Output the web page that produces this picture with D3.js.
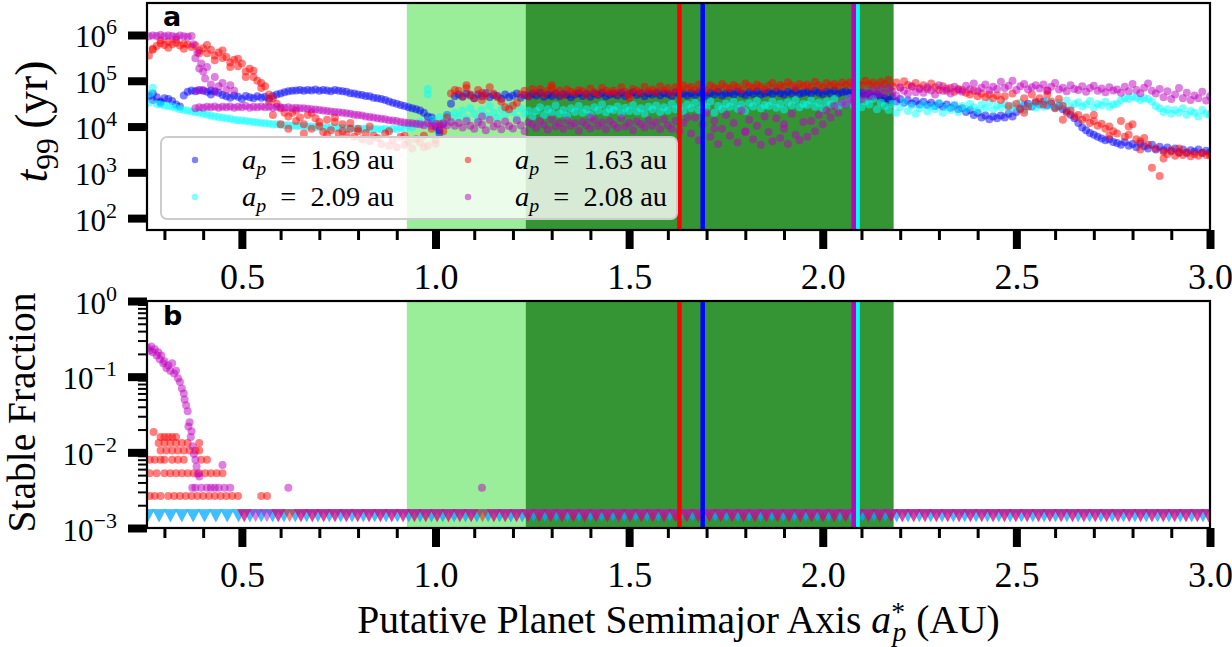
<!DOCTYPE html>
<html>
<head>
<meta charset="utf-8">
<script src="https://cdn.jsdelivr.net/npm/d3@7/dist/d3.min.js"></script>
<style>
html,body{margin:0;padding:0;background:#fff;}
svg{display:block;}
svg text{font-family:"Liberation Serif";}
svg text.sanslabel{font-family:"DejaVu Sans";font-weight:bold;}
</style>
</head>
<body>
<svg id="chart" width="1232" height="647"></svg>
<script>
// ================= DATA =================
const xDomain = [0.255, 3.0];            // putative planet semimajor axis (AU)
const t99Domain = [55, 5.0e6];           // t99 (yr), log axis
const fracDomain = [1e-3, 1];            // stable fraction, log axis
const gridStart = 0.26, gridStep = 0.01; // simulation grid in a_p* (AU)

const xMajorTicks = [0.5, 1.0, 1.5, 2.0, 2.5, 3.0];
const xMinorTicks = [0.3,0.4,0.6,0.7,0.8,0.9,1.1,1.2,1.3,1.4,1.6,1.7,1.8,1.9,2.1,2.2,2.3,2.4,2.6,2.7,2.8,2.9];
const t99TickExps = [2, 3, 4, 5, 6];
const fracTickExps = [-3, -2, -1, 0];

const lightSpan = [0.926, 1.233];   // light green band
const darkSpan  = [1.233, 2.183];   // dark green band

const seriesNames  = ['1.69', '2.09', '1.63', '2.08'];   // a_p (au)
const seriesColors = ['#0000ff', '#00ffff', '#ff0000', '#bf00bf'];
const planetA      = [1.69, 2.09, 1.63, 2.08];

// log10(t99 / yr) on the grid 0.26, 0.27, ... 3.00
const t99LogBlue = [
4.66,4.58,4.64,4.55,4.62,4.60,4.56,4.48,4.44,4.68,
4.76,4.79,4.77,4.80,4.78,4.76,4.79,4.77,4.74,4.69,
4.66,4.63,4.68,4.65,4.60,4.67,4.64,4.62,4.66,4.63,
4.65,4.61,4.67,4.70,4.72,4.75,4.77,4.78,4.79,4.80,
4.78,4.80,4.79,4.81,4.78,4.80,4.79,4.77,4.80,4.78,
4.77,4.76,4.73,4.72,4.70,4.69,4.67,4.66,4.63,4.62,
4.60,4.58,4.55,4.52,4.50,4.47,4.45,4.42,4.40,4.38,
4.35,4.30,4.22,4.12,4.00,3.92,4.05,4.25,4.50,4.66,
4.70,4.65,4.72,4.68,4.62,4.70,4.66,4.73,4.64,4.69,
4.67,4.61,4.70,4.64,4.68,4.72,4.63,4.69,4.66,4.71,
4.68,4.74,4.65,4.70,4.67,4.72,4.66,4.71,4.69,4.64,
4.70,4.73,4.67,4.71,4.65,4.72,4.69,4.74,4.66,4.70,
4.72,4.68,4.74,4.67,4.71,4.75,4.69,4.73,4.66,4.72,
4.70,4.74,4.68,4.73,4.71,4.67,4.75,4.70,4.72,4.68,
4.73,4.69,4.75,4.71,4.67,4.74,4.70,4.76,4.68,4.72,
4.74,4.70,4.76,4.72,4.69,4.75,4.71,4.77,4.70,4.73,
4.75,4.71,4.77,4.73,4.70,4.76,4.72,4.78,4.71,4.74,
4.76,4.72,4.78,4.74,4.71,4.77,4.73,4.79,4.72,4.75,
4.77,4.73,4.75,4.70,4.74,4.68,4.72,4.66,4.70,4.64,
4.62,4.58,4.64,4.55,4.60,4.52,4.57,4.50,4.56,4.48,
4.54,4.47,4.52,4.45,4.50,4.43,4.48,4.41,4.46,4.38,
4.40,4.32,4.36,4.25,4.30,4.20,4.24,4.16,4.22,4.18,
4.24,4.20,4.28,4.22,4.32,4.40,4.46,4.50,4.44,4.52,
4.48,4.55,4.46,4.50,4.42,4.45,4.38,4.34,4.26,4.18,
4.08,3.98,3.92,3.86,3.82,3.78,3.74,3.70,3.72,3.66,
3.64,3.60,3.66,3.58,3.62,3.55,3.63,3.57,3.52,3.60,
3.50,3.56,3.48,3.54,3.46,3.52,3.44,3.50,3.42,3.48,
3.45,3.50,3.43,3.47,3.44];

const t99LogCyan = [
4.52,4.85,4.49,4.48,4.46,4.45,4.43,4.41,4.38,4.36,
4.35,4.33,4.31,4.30,4.28,4.26,4.24,4.22,4.21,4.19,
4.18,4.17,4.15,4.14,4.13,4.12,4.11,4.10,4.09,4.08,
4.07,4.06,4.05,4.05,4.04,4.03,4.03,4.02,4.02,4.01,
4.01,4.00,4.00,3.99,3.99,3.98,3.98,3.98,3.97,3.97,
3.97,3.96,3.96,3.96,3.95,3.95,3.95,3.94,3.95,3.94,
3.94,3.95,3.93,3.96,3.94,3.97,3.95,4.02,3.98,4.05,
4.10,4.05,4.82,4.15,4.08,4.20,4.12,4.25,4.18,4.30,
4.22,4.35,4.18,4.40,4.28,4.15,4.36,4.24,4.45,4.30,
4.20,4.38,4.26,4.44,4.32,4.18,4.40,4.28,4.35,4.22,
4.34,4.42,4.25,4.38,4.30,4.46,4.28,4.36,4.24,4.40,
4.32,4.45,4.30,4.38,4.26,4.42,4.35,4.48,4.31,4.39,
4.36,4.44,4.29,4.41,4.34,4.47,4.33,4.40,4.28,4.43,
4.37,4.46,4.32,4.42,4.35,4.50,4.38,4.44,4.34,4.48,
4.40,4.52,4.36,4.47,4.42,4.55,4.30,4.45,4.38,4.50,
4.43,4.54,4.39,4.48,4.34,4.51,4.44,4.56,4.40,4.47,
4.45,4.55,4.41,4.50,4.37,4.53,4.46,4.58,4.42,4.49,
4.47,4.57,4.43,4.52,4.40,4.55,4.48,4.60,4.44,4.51,
4.50,4.62,4.46,4.58,4.42,4.55,4.48,4.60,4.38,4.52,
4.45,4.36,4.50,4.30,4.42,4.55,4.34,4.46,4.28,4.40,
4.48,4.33,4.44,4.38,4.52,4.30,4.42,4.36,4.47,4.32,
4.45,4.38,4.50,4.42,4.35,4.48,4.40,4.53,4.37,4.46,
4.42,4.50,4.38,4.46,4.40,4.52,4.36,4.44,4.48,4.41,
4.50,4.43,4.55,4.46,4.40,4.52,4.45,4.57,4.42,4.49,
4.53,4.44,4.48,4.56,4.41,4.50,4.46,4.54,4.43,4.48,
4.50,4.58,4.62,4.60,4.65,4.63,4.58,4.62,4.60,4.55,
4.45,4.40,4.32,4.38,4.28,4.36,4.30,4.40,4.26,4.34,
4.30,4.22,4.36,4.28,4.25];

const t99LogRed = [
5.55,5.68,5.76,5.82,5.78,5.85,5.80,5.83,5.77,5.81,
5.79,5.74,5.77,5.66,5.71,5.60,5.68,5.55,5.62,5.50,
5.52,5.40,5.46,5.32,5.38,5.20,5.26,5.08,5.00,4.84,
4.88,4.70,4.62,4.50,4.40,4.30,4.22,4.30,4.12,4.20,
4.05,4.25,3.95,4.18,4.02,3.88,4.15,3.92,4.10,3.85,
4.05,3.82,3.95,3.78,3.90,3.72,3.86,3.68,3.80,3.75,
3.62,3.85,3.58,3.70,3.55,3.78,3.60,3.66,3.52,3.72,
3.65,3.80,3.58,3.95,3.70,4.05,3.90,4.20,4.72,4.80,
4.78,4.66,4.84,4.70,4.62,4.80,4.74,4.68,4.86,4.72,
4.64,4.55,4.42,4.38,4.46,4.52,4.70,4.78,4.66,4.82,
4.74,4.82,4.70,4.78,4.85,4.72,4.79,4.68,4.81,4.76,
4.73,4.80,4.77,4.69,4.83,4.75,4.71,4.84,4.78,4.74,
4.79,4.72,4.86,4.76,4.70,4.82,4.78,4.74,4.87,4.77,
4.81,4.75,4.88,4.79,4.84,4.73,4.86,4.80,4.90,4.83,
4.87,4.80,4.92,4.84,4.78,4.90,4.85,4.82,4.93,4.86,
4.83,4.91,4.86,4.80,4.94,4.88,4.84,4.92,4.87,4.81,
4.89,4.95,4.85,4.91,4.87,4.97,4.90,4.84,4.93,4.88,
4.92,4.86,4.98,4.90,4.85,4.95,4.89,4.93,4.87,4.96,
4.91,4.97,4.88,4.94,4.90,5.00,4.92,4.96,4.89,4.98,
4.93,5.02,4.88,4.96,4.85,4.99,4.91,4.87,4.95,4.84,
4.90,4.82,4.94,4.86,4.80,4.88,4.78,4.84,4.76,4.82,
4.80,4.74,4.70,4.78,4.66,4.72,4.64,4.70,4.62,4.68,
4.58,4.66,4.45,4.72,4.50,4.38,4.62,4.44,4.70,4.55,
4.62,4.48,4.70,4.55,4.40,4.60,4.45,4.30,4.35,4.22,
4.25,4.15,4.20,4.08,4.12,4.02,4.06,3.95,4.00,3.90,
3.85,4.12,3.78,3.82,4.05,3.72,3.68,3.75,3.60,3.10,
3.52,2.92,3.45,3.40,3.48,3.36,3.42,3.38,3.44,3.35,
3.40,3.36,3.42,3.38,3.37];

const t99LogMagenta = [
5.97,5.99,5.98,6.00,5.97,5.99,5.98,5.96,5.99,5.97,
5.96,5.98,4.40,4.42,4.41,4.43,4.42,4.44,4.41,4.43,
4.42,4.44,4.41,4.43,4.42,4.45,4.41,4.43,4.42,4.44,
4.42,4.43,4.41,4.43,4.42,4.41,4.42,4.40,4.41,4.40,
4.40,4.39,4.38,4.37,4.36,4.35,4.34,4.33,4.32,4.31,
4.30,4.29,4.28,4.26,4.25,4.24,4.22,4.21,4.20,4.18,
4.17,4.16,4.14,4.13,4.12,4.10,4.09,4.08,4.07,4.06,
4.05,4.03,4.08,4.02,4.06,4.00,4.07,4.03,4.10,4.02,
4.08,3.98,4.12,4.02,3.95,4.10,4.04,3.92,4.15,4.00,
4.06,3.94,4.11,4.01,3.96,4.14,4.03,3.90,4.09,4.05,
3.97,4.12,4.04,3.93,4.16,4.00,4.08,3.95,4.13,4.02,
4.07,3.91,4.10,4.03,3.96,4.15,4.01,4.09,3.94,4.12,
4.04,3.97,4.18,4.00,4.08,3.92,4.11,4.05,3.98,4.14,
4.02,4.10,3.94,4.16,4.03,3.95,4.12,3.90,4.08,4.20,
3.85,4.20,3.70,4.05,4.30,3.78,4.12,3.62,3.95,4.25,
3.80,4.08,3.65,4.35,3.90,4.15,3.72,4.02,3.60,4.22,
3.88,3.68,4.18,3.75,4.05,3.62,4.28,3.82,3.70,4.10,
3.78,4.12,3.90,4.25,4.05,4.35,4.20,4.45,4.30,4.52,
4.48,4.62,4.55,4.70,4.60,4.75,4.66,4.80,4.70,4.82,
4.72,4.84,4.76,4.68,4.86,4.78,4.72,4.88,4.75,4.82,
4.74,4.86,4.79,4.70,4.90,4.78,4.83,4.72,4.87,4.80,
4.76,4.89,4.81,4.94,4.77,4.85,4.92,4.79,4.87,4.82,
4.98,4.84,4.89,5.00,4.80,4.88,4.93,4.81,4.86,4.90,
4.83,4.92,4.79,4.87,4.95,4.81,4.85,4.77,4.90,4.82,
4.80,4.88,4.76,4.84,4.89,4.78,4.83,4.75,4.86,4.79,
4.81,4.74,4.87,4.77,4.93,4.80,4.73,4.85,4.94,4.78,
4.72,4.82,4.64,4.77,4.60,4.70,4.84,4.62,4.74,4.58,
4.68,4.62,4.76,4.57,4.66];

// additional runs off the grid: [a (AU), log10 t99]
const t99ExtraBlue = [[0.27,4.72],[0.29,4.52],[0.42,4.70],[0.99,4.20],[1.01,3.86]];
const t99ExtraCyan = [[0.265,4.72],[0.98,4.70]];
const t99ExtraRed = [[0.27,5.70],[0.29,5.88],[0.31,5.72],[0.33,5.90],[0.35,5.70],[0.39,5.60],[0.41,5.78],
  [0.43,5.45],[0.45,5.66],[0.47,5.30],[0.49,5.48],[0.51,5.08],[0.53,5.22],[0.55,4.95],[0.57,4.55],
  [0.58,4.25],[0.60,4.05],[0.62,3.95],[0.64,4.35],[0.66,3.85],[0.68,4.30],[0.70,4.10],[0.72,3.82],
  [0.74,4.20],[0.76,3.90],[0.78,4.08],[0.80,3.95],[0.83,4.00],[0.88,3.90],[0.92,3.80],[0.97,3.55],
  [1.00,3.62],[1.08,4.90],[1.12,4.58],[1.30,4.90],[1.50,4.62],[2.52,4.30],[2.58,4.78],[2.62,4.15],
  [2.70,4.25],[2.74,3.80],[2.79,4.00],[2.82,3.50],[2.88,3.30],[2.92,3.52]];
const t99ExtraMagenta = [[0.375,5.80],[0.38,5.49],[0.385,5.62],[0.39,5.27],[0.395,5.38],[0.40,5.20],
  [0.405,5.05],[0.41,5.30],[0.42,4.92],[0.43,5.08],[0.44,4.88],[0.45,4.95],[0.46,4.80],[0.47,4.90],
  [0.385,4.78],[0.40,4.80],[0.43,4.76],[0.48,4.78],[1.72,3.95],[1.80,3.88],[1.90,3.95],[1.12,4.22],[1.40,4.20]];

// stable fraction, non-zero runs: [a (AU), fraction]
const fracBlue = [];
const fracCyan = [];
const fracRed = [
  [0.272,0.0186],
  [0.29,0.0159],[0.30,0.0159],[0.31,0.0159],[0.32,0.0159],[0.33,0.0159],
  [0.285,0.0133],[0.30,0.0133],[0.315,0.0133],[0.33,0.0133],[0.345,0.0133],[0.36,0.0133],[0.39,0.0133],
  [0.29,0.0106],[0.305,0.0106],[0.32,0.0106],[0.335,0.0106],[0.35,0.0106],[0.365,0.0106],[0.38,0.0106],[0.39,0.0106],
  [0.262,0.0080],[0.275,0.0080],[0.29,0.0080],[0.30,0.0080],[0.32,0.0080],[0.335,0.0080],[0.35,0.0080],[0.395,0.0080],[0.41,0.0080],
  [0.262,0.0053],[0.28,0.0053],[0.30,0.0053],[0.315,0.0053],[0.33,0.0053],[0.345,0.0053],[0.36,0.0053],[0.375,0.0053],
  [0.39,0.0053],[0.405,0.0053],[0.42,0.0053],[0.435,0.0053],[0.45,0.0053],
  [0.262,0.00265],[0.275,0.00265],[0.29,0.00265],[0.31,0.00265],[0.325,0.00265],[0.34,0.00265],[0.355,0.00265],
  [0.37,0.00265],[0.385,0.00265],[0.40,0.00265],[0.415,0.00265],[0.43,0.00265],[0.445,0.00265],[0.46,0.00265],
  [0.475,0.00265],[0.49,0.00265],[0.55,0.00265],[0.565,0.00265]];
const fracMagenta = [
  [0.257,0.24],[0.262,0.22],[0.266,0.25],[0.27,0.21],[0.275,0.23],[0.28,0.19],[0.284,0.21],[0.288,0.17],
  [0.292,0.19],[0.297,0.15],[0.30,0.16],[0.305,0.13],[0.31,0.14],[0.315,0.12],[0.32,0.15],[0.325,0.11],
  [0.33,0.12],[0.335,0.095],[0.34,0.085],[0.345,0.07],[0.35,0.06],[0.352,0.05],[0.356,0.042],[0.36,0.035],
  [0.362,0.022],[0.365,0.025],[0.368,0.016],[0.37,0.019],[0.373,0.012],[0.376,0.0095],[0.38,0.008],
  [0.383,0.0065],[0.386,0.0052],[0.39,0.0048],[0.372,0.0034],[0.38,0.0034],[0.395,0.0034],[0.41,0.0034],
  [0.42,0.0034],[0.43,0.0034],[0.44,0.0034],[0.455,0.0034],[0.47,0.0034],[0.45,0.0068],[0.62,0.0034],[1.12,0.0034]];

// zero stable fraction runs are shown as triangles at this value, on a coarser grid
const zeroFracPlotValue = 1.45e-3;
const fracGridStep = 0.0293;
const fracGridStarts = [0.257, 0.257, 0.2717, 0.2717];

// ================= DRAWING =================
const FONT = 'Liberation Serif';
const svg = d3.select('#chart');
const L = 147, R = 1210;
const A = {top: 3, bottom: 230}, B = {top: 301, bottom: 528};
const DOT_R = 4;

const x  = d3.scaleLinear().domain(xDomain).range([L, R]);
const ya = d3.scaleLog().domain(t99Domain).range([A.bottom, A.top]);
const yb = d3.scaleLog().domain(fracDomain).range([B.bottom, B.top]);

function serif(t) { return t.attr('font-family', FONT).style('font-family', FONT); }

const defs = svg.append('defs');
[['clipA', A], ['clipB', B]].forEach(([id, P]) => {
  defs.append('clipPath').attr('id', id).append('rect')
    .attr('x', L).attr('y', P.top).attr('width', R - L).attr('height', P.bottom - P.top);
});

function drawBands(P) {
  const g = svg.append('g');
  g.append('rect').attr('x', x(lightSpan[0])).attr('width', x(lightSpan[1]) - x(lightSpan[0]))
    .attr('y', P.top).attr('height', P.bottom - P.top).attr('fill', '#9aee9a');
  g.append('rect').attr('x', x(darkSpan[0])).attr('width', x(darkSpan[1]) - x(darkSpan[0]))
    .attr('y', P.top).attr('height', P.bottom - P.top).attr('fill', '#359535');
}
function drawPlanetLines(P) {
  const g = svg.append('g');
  planetA.forEach((a, i) => {
    g.append('line').attr('x1', x(a)).attr('x2', x(a)).attr('y1', P.top).attr('y2', P.bottom)
      .attr('stroke', seriesColors[i]).attr('stroke-width', 4.5);
  });
}
function drawFrame(P) {
  svg.append('rect').attr('x', L).attr('y', P.top).attr('width', R - L).attr('height', P.bottom - P.top)
    .attr('fill', 'none').attr('stroke', '#000').attr('stroke-width', 2.2);
}
function styleAxis(g, w) {
  g.attr('font-family', null).attr('font-size', null);
  g.select('.domain').remove();
  g.selectAll('.tick line').attr('stroke', '#000').attr('stroke-width', w);
}
function drawXAxis(P) {
  const gMin = svg.append('g').attr('transform', `translate(0,${P.bottom})`)
    .call(d3.axisBottom(x).tickValues(xMinorTicks).tickSize(10).tickFormat(''));
  styleAxis(gMin, 3);
  const gMaj = svg.append('g').attr('transform', `translate(0,${P.bottom})`)
    .call(d3.axisBottom(x).tickValues(xMajorTicks).tickSize(19).tickPadding(14).tickFormat(d3.format('.1f')));
  styleAxis(gMaj, 8);
  serif(gMaj.selectAll('.tick text')).attr('font-size', 36).attr('fill', '#000');
}
function supLabels(g, exps) {
  g.selectAll('.tick').each(function(d, i) {
    const e = exps[i];
    const t = serif(d3.select(this).append('text')).attr('x', -30).attr('y', 12)
      .attr('text-anchor', 'end').attr('font-size', 31).attr('fill', '#000');
    t.append('tspan').text('10');
    t.append('tspan').attr('font-size', 22).attr('dy', -13).text(e < 0 ? '\u2212' + (-e) : String(e));
  });
}

// ---------- panel a ----------
drawBands(A);
const seriesA = [
  {logT: t99LogBlue, extra: t99ExtraBlue},
  {logT: t99LogCyan, extra: t99ExtraCyan},
  {logT: t99LogRed, extra: t99ExtraRed},
  {logT: t99LogMagenta, extra: t99ExtraMagenta}
];
const gScA = svg.append('g').attr('clip-path', 'url(#clipA)');
seriesA.forEach((s, si) => {
  const pts = s.logT.map((v, i) => ({a: gridStart + i * gridStep, t: Math.pow(10, v)}))
    .concat(s.extra.map(([a, v]) => ({a: a, t: Math.pow(10, v)})));
  gScA.append('g').selectAll('circle').data(pts).join('circle')
    .attr('cx', d => x(d.a)).attr('cy', d => ya(d.t)).attr('r', DOT_R)
    .attr('fill', seriesColors[si]).attr('fill-opacity', 0.5);
});
drawPlanetLines(A);
drawFrame(A);
drawXAxis(A);
const gAy = svg.append('g').attr('transform', `translate(${L},0)`)
  .call(d3.axisLeft(ya).tickValues(t99TickExps.map(e => Math.pow(10, e))).tickSize(19).tickFormat(''));
styleAxis(gAy, 8);
supLabels(gAy, t99TickExps);

// legend
const leg = svg.append('g');
leg.append('rect').attr('x', 161).attr('y', 137).attr('width', 516).attr('height', 82).attr('rx', 6)
  .attr('fill', '#fff').attr('fill-opacity', 0.8).attr('stroke', '#cccccc').attr('stroke-width', 2);
const legCols = [[195, 242], [468, 515]];
const legRows = [160, 197];
const legTexts = [];
seriesNames.forEach((nm, i) => {
  const col = legCols[Math.floor(i / 2)], row = legRows[i % 2];
  leg.append('circle').attr('cx', col[0]).attr('cy', row).attr('r', 3.2)
    .attr('fill', seriesColors[i]).attr('fill-opacity', 0.5);
  const t = serif(leg.append('text')).attr('x', col[1]).attr('y', row + 9)
    .attr('font-size', 30).attr('fill', '#000');
  t.append('tspan').attr('font-style', 'italic').text('a');
  t.append('tspan').attr('font-style', 'italic').attr('font-size', '0.7em').attr('dy', '0.29em').text('p');
  t.append('tspan').attr('dy', '-0.2em').text('\u2002=\u2002' + nm + ' au');
  legTexts.push(t);
});
{
  const w = legTexts[0].node().getComputedTextLength();
  const fs = 30 * 152 / w;
  legTexts.forEach(t => t.attr('font-size', fs));
}

// panel label a
svg.append('text').attr('class', 'sanslabel').attr('x', 163).attr('y', 26)
  .attr('font-family', 'DejaVu Sans').attr('font-weight', 'bold').attr('font-size', 27).text('a');

// ---------- panel b ----------
drawBands(B);
const gScB = svg.append('g').attr('clip-path', 'url(#clipB)');
const fracSeries = [fracBlue, fracCyan, fracRed, fracMagenta];
fracSeries.forEach((nz, si) => {
  const grid = d3.range(fracGridStarts[si], xDomain[1] + 1e-9, fracGridStep);
  const zeros = grid.filter(a => !nz.some(p => Math.abs(p[0] - a) < fracGridStep / 2));
  gScB.append('g').selectAll('path').data(zeros).join('path')
    .attr('d', 'M-7,-6.5L7,-6.5L0,6.5Z')
    .attr('transform', a => `translate(${x(a)},${yb(zeroFracPlotValue)})`)
    .attr('fill', seriesColors[si]).attr('fill-opacity', 0.5);
});
fracSeries.forEach((nz, si) => {
  gScB.append('g').selectAll('circle').data(nz).join('circle')
    .attr('cx', d => x(d[0])).attr('cy', d => yb(d[1])).attr('r', DOT_R)
    .attr('fill', seriesColors[si]).attr('fill-opacity', 0.5);
});
drawPlanetLines(B);
drawFrame(B);
drawXAxis(B);
const fracMinor = [];
[-3, -2, -1].forEach(e => { for (let k = 2; k <= 9; k++) fracMinor.push(k * Math.pow(10, e)); });
const gBmin = svg.append('g').attr('transform', `translate(${L},0)`)
  .call(d3.axisLeft(yb).tickValues(fracMinor).tickSize(9).tickFormat(''));
styleAxis(gBmin, 2);
const gBy = svg.append('g').attr('transform', `translate(${L},0)`)
  .call(d3.axisLeft(yb).tickValues(fracTickExps.map(e => Math.pow(10, e))).tickSize(19).tickFormat(''));
styleAxis(gBy, 8);
supLabels(gBy, fracTickExps);

svg.append('text').attr('class', 'sanslabel').attr('x', 163).attr('y', 325)
  .attr('font-family', 'DejaVu Sans').attr('font-weight', 'bold').attr('font-size', 27).text('b');

// ---------- axis titles ----------
function fit(t, target) {
  const w = t.node().getComputedTextLength();
  t.attr('font-size', (+t.attr('font-size')) * target / w);
}
const xl = serif(svg.append('text')).attr('x', (L + R) / 2).attr('y', 633).attr('text-anchor', 'middle')
  .attr('font-size', 38).attr('fill', '#000');
xl.append('tspan').text('Putative Planet Semimajor Axis ');
xl.append('tspan').attr('font-style', 'italic').text('a');
xl.append('tspan').attr('font-size', '0.7em').attr('dy', '-0.45em').text('*');
xl.append('tspan').attr('font-style', 'italic').attr('font-size', '0.7em').attr('dx', '-0.45em').attr('dy', '0.74em').text('p');
xl.append('tspan').attr('dy', '-0.2em').text(' (AU)');
fit(xl, 655);

const yl1 = serif(svg.append('text')).attr('transform', `translate(47,${(A.top + A.bottom) / 2 + 5}) rotate(-90)`)
  .attr('text-anchor', 'middle').attr('font-size', 38).attr('fill', '#000');
yl1.append('tspan').attr('font-style', 'italic').text('t');
yl1.append('tspan').attr('font-size', '0.7em').attr('dy', '0.36em').text('99');
yl1.append('tspan').attr('dy', '-0.25em').text('\u2009(yr)');
fit(yl1, 122);

const yl2 = serif(svg.append('text')).attr('transform', `translate(35,${(B.top + B.bottom) / 2 - 2}) rotate(-90)`)
  .attr('text-anchor', 'middle').attr('font-size', 38).attr('fill', '#000')
  .text('Stable Fraction');
fit(yl2, 240);
</script>
</body>
</html>
